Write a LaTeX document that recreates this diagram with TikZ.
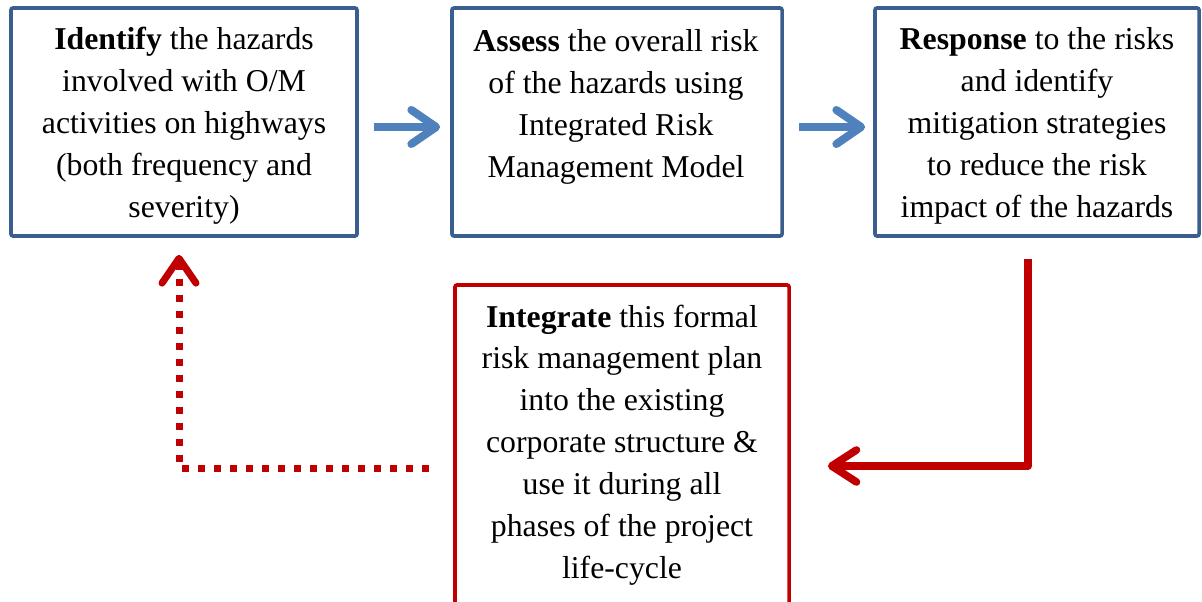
\documentclass[tikz,border=0pt]{standalone}
\usepackage{fontspec}
\setmainfont{Liberation Serif}
\usetikzlibrary{arrows.meta, positioning}
\definecolor{boxblue}{HTML}{3A5F8E}
\definecolor{arrowblue}{HTML}{4F81BD}
\definecolor{riskred}{HTML}{C00000}
\tikzstyle{bluebox} = [rectangle, rounded corners=1.5pt, draw=boxblue, line width=0.09cm]
\tikzstyle{redbox} = [rectangle, rounded corners=1.5pt, draw=riskred, line width=0.09cm]
\tikzstyle{boxtext} = [align=center, inner sep=0pt, font=\fontsize{22.6}{29.8}\selectfont]
\tikzstyle{bluearrow} = [draw=arrowblue, line width=0.2cm, -{Straight Barb[length=0.62cm, width=0.85cm, round]}]
\tikzstyle{redarrow} = [draw=riskred, line width=0.19cm, line join=round, -{Straight Barb[length=0.62cm, width=0.8cm, round]}]
\tikzstyle{dotarrow} = [draw=riskred, line width=0.175cm, dash pattern=on 0.175cm off 0.225cm, -{Straight Barb[length=0.62cm, width=0.85cm, round]}]

\begin{document}
\begin{tikzpicture}[x=0.025cm, y=-0.025cm]
				\useasboundingbox (0,0) rectangle (1202,602);
				
				\node (identify) [bluebox, minimum width=8.65cm, minimum height=5.7cm] at (184,122) {};
				\node (assess) [bluebox, minimum width=8.25cm, minimum height=5.7cm] at (617,122) {};
				\node (response) [bluebox, minimum width=8.1cm, minimum height=5.7cm] at (1037,122) {};
				\node (integrate) [redbox, minimum width=8.35cm, minimum height=8cm] at (622,445) {};
				
				\node (identifytext) [boxtext] at (184,126) {\textbf{Identify} the hazards\\ involved with O/M\\ activities on highways\\ (both frequency and\\ severity)};
				\node (assesstext) [boxtext] at (616,107) {\textbf{Assess} the overall risk\\ of the hazards using\\ Integrated Risk\\ Management Model};
				\node (responsetext) [boxtext] at (1037,126) {\textbf{Response} to the risks\\ and identify\\ mitigation strategies\\ to reduce the risk\\ impact of the hazards};
				\node (integratetext) [boxtext] at (622,445) {\textbf{Integrate} this formal\\ risk management plan\\ into the existing\\ corporate structure \&\\ use it during all\\ phases of the project\\ life-cycle};
				
				% Arrows
				\draw [bluearrow, shorten <=0.375cm, shorten >=0.25cm] ([yshift=-0.125cm]identify.east) -- ([yshift=-0.125cm]assess.west);
				\draw [bluearrow, shorten <=0.375cm, shorten >=0.2cm] ([yshift=-0.125cm]assess.east) -- ([yshift=-0.125cm]response.west);
				\draw [redarrow] ([xshift=-0.22cm, yshift=-0.52cm]response.south) |- ([xshift=0.925cm, yshift=-0.525cm]integrate.east);
				\draw [dotarrow] ([xshift=-0.6cm, yshift=-0.575cm]integrate.west) -| ([xshift=-0.125cm, yshift=-0.425cm]identify.south);
\end{tikzpicture}
\end{document}
